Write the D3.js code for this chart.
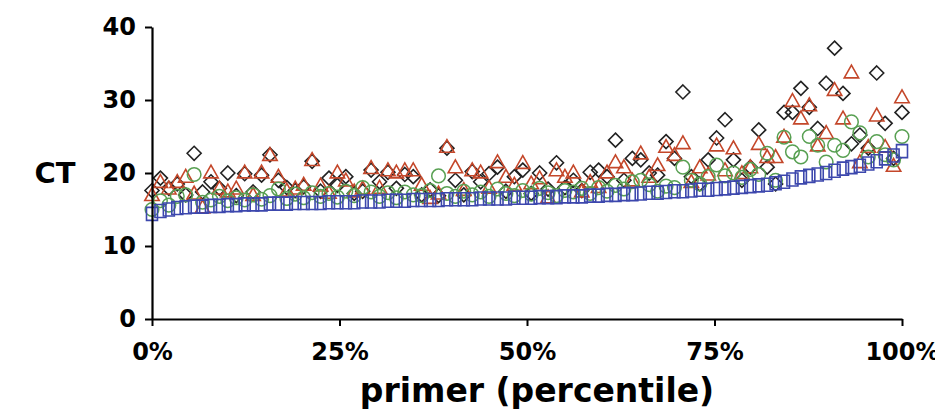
<!DOCTYPE html>
<html>
<head>
<meta charset="utf-8">
<script src="https://cdn.jsdelivr.net/npm/d3@7"></script>
<style>
  html, body { margin: 0; padding: 0; background: #fff; }
  svg { display: block; font-family: "DejaVu Sans", Verdana, sans-serif; font-weight: bold; }
</style>
</head>
<body>
<div id="chart"></div>
<script>
// CT values per primer, sorted by the square series
const ctSquare = [
  14.4, 14.8, 15.0, 15.2, 15.3, 15.4, 15.4, 15.5, 15.5, 15.6,
  15.6, 15.7, 15.7, 15.7, 15.8, 15.8, 15.8, 15.9, 15.9, 15.9,
  15.9, 16.0, 16.0, 16.0, 16.0, 16.1, 16.1, 16.1, 16.2, 16.2,
  16.2, 16.3, 16.3, 16.3, 16.3, 16.4, 16.4, 16.4, 16.4, 16.5,
  16.5, 16.5, 16.5, 16.6, 16.6, 16.6, 16.7, 16.7, 16.7, 16.8,
  16.8, 16.8, 16.9, 16.9, 17.0, 17.0, 17.1, 17.1, 17.2, 17.3,
  17.3, 17.4, 17.5, 17.5, 17.6, 17.7, 17.7, 17.8, 17.9, 18.0,
  18.1, 18.2, 18.3, 18.4, 18.6, 18.8, 19.1, 19.4, 19.6, 19.8,
  20.0, 20.3, 20.6, 20.8, 21.0, 21.3, 21.6, 22.0, 22.4, 23.0
];
const ctCircle = [
  15.0, 16.2, 15.6, 16.8, 17.0, 19.8, 16.0, 16.3, 16.8, 16.2,
  16.6, 16.3, 17.0, 16.4, 16.9, 17.8, 16.5, 17.1, 16.6, 17.3,
  16.8, 17.2, 16.7, 17.5, 16.9, 18.0, 17.4, 16.8, 17.3, 16.6,
  17.4, 17.0, 16.9, 17.6, 19.6, 17.2, 16.8, 17.5, 17.0, 17.4,
  16.8, 17.8, 17.2, 16.9, 17.6, 17.1, 17.9, 17.3, 16.9, 17.6,
  17.4, 17.9, 17.2, 18.0, 17.5, 18.3, 17.8, 18.8, 19.0, 18.4,
  17.5, 18.2, 18.0, 20.8, 19.0, 18.5, 19.5, 21.1, 19.6, 20.0,
  19.4, 20.5, 19.8, 22.7, 19.0, 24.9, 22.9, 22.2, 25.0, 23.8,
  21.5, 23.8, 23.1, 27.0, 25.5, 22.2, 24.3, 22.5, 21.8, 25.0
];
const ctTriangle = [
  17.0, 18.8, 17.9, 18.8, 19.5, 17.2, 15.3, 20.1, 17.9, 17.5,
  17.9, 20.1, 17.0, 20.1, 22.5, 19.5, 17.6, 17.9, 18.4, 21.8,
  18.3, 17.3, 20.1, 19.0, 17.5, 17.9, 20.7, 18.0, 20.4, 20.1,
  20.4, 20.4, 18.4, 16.6, 17.2, 23.6, 20.8, 17.7, 20.4, 20.1,
  18.0, 21.5, 19.5, 18.4, 21.4, 18.6, 19.3, 16.7, 20.4, 19.5,
  20.1, 17.5, 18.8, 18.1, 20.1, 21.5, 20.8, 19.0, 22.7, 19.5,
  21.1, 23.6, 22.5, 24.1, 18.8, 20.8, 19.8, 23.8, 20.4, 23.4,
  20.0, 20.8, 24.0, 22.2, 22.2, 25.0, 29.9, 27.5, 29.3, 23.8,
  25.5, 31.4, 27.5, 33.8, 21.5, 23.6, 27.9, 23.6, 21.0, 30.4
];
const ctDiamond = [
  17.6, 19.3, 17.9, 18.5, 17.0, 22.7, 17.4, 18.8, 17.9, 20.0,
  16.9, 19.9, 17.4, 19.7, 22.5, 19.0, 18.0, 17.6, 18.1, 21.6,
  17.5, 19.3, 18.3, 19.5, 17.2, 17.5, 20.4, 18.8, 20.1, 17.9,
  19.8, 19.5, 17.0, 17.7, 16.9, 23.4, 19.0, 17.0, 20.2, 18.8,
  19.9, 20.8, 17.5, 19.5, 20.4, 17.2, 20.0, 17.8, 21.4, 18.0,
  19.0, 17.6, 20.1, 20.4, 19.5, 24.5, 19.0, 22.0, 21.8, 20.0,
  19.7, 24.3, 22.0, 31.1, 19.5, 18.5, 21.8, 24.8, 27.3, 21.8,
  19.0, 20.8, 25.9, 20.8, 18.5, 28.3, 28.3, 31.6, 29.0, 26.1,
  32.3, 37.1, 30.9, 24.0, 25.2, 23.4, 33.7, 26.8, 22.0, 28.3
];
// percentile rank of each primer
const percentile = ctSquare.map((_, i) => i / (ctSquare.length - 1));

const yTicks = [0, 10, 20, 30, 40];
const xTicks = [0, 0.25, 0.5, 0.75, 1];
const yLabel = "CT";
const xLabel = "primer (percentile)";

const width = 935, height = 412;
const margin = { top: 27, right: 33, bottom: 93, left: 152 };

const svg = d3.select("#chart").append("svg")
  .attr("width", width)
  .attr("height", height);

const x = d3.scaleLinear().domain([0, 1]).range([margin.left, width - margin.right]);
const y = d3.scaleLinear().domain([0, 40]).range([height - margin.bottom, margin.top]);

// markers, drawn back to front
const series = [
  { name: "diamond", values: ctDiamond, color: "#222222", shape: "diamond" },
  { name: "triangle", values: ctTriangle, color: "#c4472a", shape: "triangle" },
  { name: "circle", values: ctCircle, color: "#58a052", shape: "circle" },
  { name: "square", values: ctSquare, color: "#3c47ad", shape: "square" }
];

function shapePath(shape) {
  if (shape === "diamond") return "M0,-7L7,0L0,7L-7,0Z";
  if (shape === "triangle") return "M0,-7.2L7.2,5.6L-7.2,5.6Z";
  if (shape === "square") return "M-5.5,-6.5L5.5,-6.5L5.5,6.5L-5.5,6.5Z";
  return null;
}

series.forEach(s => {
  const g = svg.append("g").attr("class", "series-" + s.name);
  const pts = s.values.map((v, i) => ({ px: percentile[i], v }));
  if (s.shape === "circle") {
    g.selectAll("circle")
      .data(pts)
      .join("circle")
      .attr("cx", d => x(d.px))
      .attr("cy", d => y(d.v))
      .attr("r", 6.8)
      .attr("fill", "none")
      .attr("stroke", s.color)
      .attr("stroke-width", 1.5);
  } else {
    g.selectAll("path")
      .data(pts)
      .join("path")
      .attr("d", shapePath(s.shape))
      .attr("transform", d => `translate(${x(d.px)},${y(d.v)})`)
      .attr("fill", "none")
      .attr("stroke", s.color)
      .attr("stroke-width", 1.6);
  }
});

// axes
const yAxis = svg.append("g")
  .attr("transform", `translate(${margin.left},0)`)
  .call(d3.axisLeft(y).tickValues(yTicks).tickSize(7).tickSizeOuter(0).tickPadding(9));

const xAxis = svg.append("g")
  .attr("transform", `translate(0,${height - margin.bottom})`)
  .call(d3.axisBottom(x).tickValues(xTicks).tickFormat(d3.format(".0%")).tickSize(7).tickSizeOuter(0).tickPadding(17));

[yAxis, xAxis].forEach(a => {
  a.select(".domain").attr("stroke", "#000").attr("stroke-width", 2.2);
  a.selectAll(".tick line").attr("stroke", "#000").attr("stroke-width", 2);
  a.selectAll(".tick text")
    .attr("fill", "#000")
    .style("font-family", '"DejaVu Sans", Verdana, sans-serif')
    .style("font-weight", "bold")
    .style("font-size", "24px");
});

// axis titles
svg.append("text")
  .attr("x", 55)
  .attr("y", y(20))
  .attr("dy", "0.36em")
  .attr("text-anchor", "middle")
  .style("font-size", "29px")
  .text(yLabel);

svg.append("text")
  .attr("x", (x(0) + x(1)) / 2 + 10)
  .attr("y", 402)
  .attr("text-anchor", "middle")
  .style("font-size", "33px")
  .text(xLabel);
</script>
</body>
</html>
